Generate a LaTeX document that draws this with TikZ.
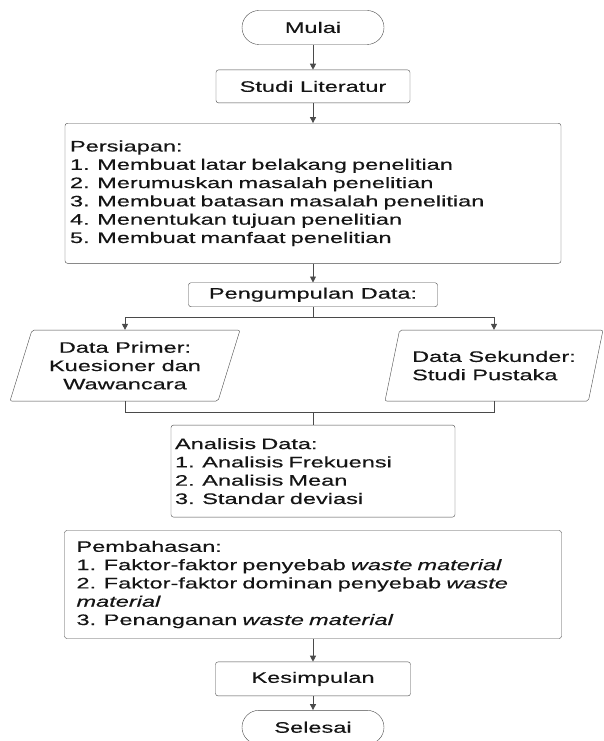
\documentclass[tikz,border=0pt]{standalone}
\usepackage{fontspec}
\setmainfont[FakeStretch=1.55, FakeBold=0.4]{Liberation Sans}
\usepackage{xcolor}
\usepackage{tikz}
\usetikzlibrary{arrows.meta}
\usetikzlibrary{positioning}
\usetikzlibrary{shapes.geometric}
\definecolor{linegray}{HTML}{4A4A4A}
\definecolor{textdark}{HTML}{151515}

\begin{document}
\begin{tikzpicture}[x=1pt, y=1pt, thin,
    every node/.style={font=\fontsize{15.2}{18.3}\selectfont, text=textdark},
    terminal/.style={draw=linegray, rectangle, rounded corners=17pt, minimum width=142pt, minimum height=34pt, inner sep=0pt},
    process/.style={draw=linegray, rectangle, rounded corners=2.5pt, inner sep=0pt},
    listbox/.style={draw=linegray, rectangle, rounded corners=2.5pt, align=left},
    inout/.style={draw=linegray, trapezium, trapezium left angle=68, trapezium right angle=112, trapezium stretches body=true, rounded corners=2pt, minimum height=71pt},
    link/.style={draw=linegray, line width=0.9pt},
    flow/.style={link, -{Triangle[width=6pt, length=6pt]}}]
    \useasboundingbox (0,0) rectangle (603,-741);

    \node[terminal] (mulai) at (313,-27.5) {Mulai};
    \node[below=25pt of mulai, process, minimum width=194pt, minimum height=33pt] (studi) {Studi Literatur};
    \node[below=20pt of studi, listbox, text width=486pt, inner xsep=5pt, minimum height=140pt] (persiapan) {Persiapan:\\
      1. Membuat latar belakang penelitian\\
      2. Merumuskan masalah penelitian\\
      3. Membuat batasan masalah penelitian\\
      4. Menentukan tujuan penelitian\\
      5. Membuat manfaat penelitian};
    \node[below=19pt of persiapan, process, minimum width=249pt, minimum height=24pt] (pengumpulan) {Pengumpulan Data:};

    % sumber data
    \node[below=23pt of pengumpulan, xshift=-188pt, inout, minimum width=230pt, align=center] (primer) {Data Primer:\\Kuesioner dan\\Wawancara};
    \node[below=23pt of pengumpulan, xshift=181pt, inout, minimum width=218pt, align=left] (sekunder) {Data Sekunder:\\Studi Pustaka};

    \node[below=118pt of pengumpulan, listbox, text width=276pt, inner xsep=4pt, minimum height=92pt] (analisis) {Analisis Data:\\
      1. Analisis Frekuensi\\
      2. Analisis Mean\\
      3. Standar deviasi};
    \node[below=13pt of analisis, listbox, text width=473pt, inner xsep=12pt, minimum height=108pt] (pembahasan) {Pembahasan:\\
      1. Faktor-faktor penyebab \textit{waste material}\\
      2. Faktor-faktor dominan penyebab \textit{waste}\\
      \textit{material}\\
      3. Penanganan \textit{waste material}};
    \node[below=23pt of pembahasan, process, minimum width=195pt, minimum height=34pt] (kesimpulan) {Kesimpulan};
    \node[below=14pt of kesimpulan, terminal] (selesai) {Selesai};

    \coordinate[below=11pt of pengumpulan] (split);
    \coordinate[above=12pt of analisis] (merge);

    \draw[flow] (mulai) -- (studi);
    \draw[flow] (studi) -- (persiapan);
    \draw[flow] (persiapan) -- (pengumpulan);
    \draw[link] (pengumpulan) -- (split);
    \draw[flow] (split) -| (primer.north);
    \draw[flow] (split) -| (sekunder.north);
    \draw[link] (primer.south) |- (merge) -| (sekunder.south);
    \draw[link] (merge) -- (analisis);
    \draw[flow] (pembahasan) -- (kesimpulan);
    \draw[flow] (kesimpulan) -- (selesai);
\end{tikzpicture}
\end{document}
